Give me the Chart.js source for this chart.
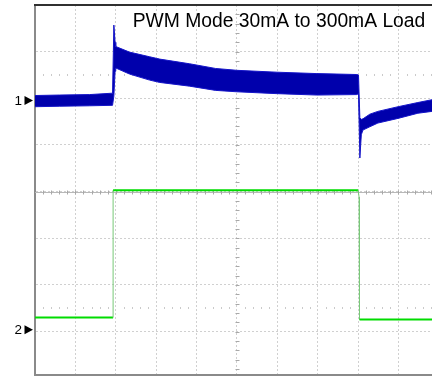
<!DOCTYPE html>
<html>
<head>
<meta charset="utf-8">
<title>PWM Mode 30mA to 300mA Load</title>
<script src="https://cdn.jsdelivr.net/npm/chart.js@4/dist/chart.umd.min.js"></script>
<style>
  html, body { margin: 0; padding: 0; background: #fff; overflow: hidden; }
  canvas { display: block; }
</style>
</head>
<body>
<canvas id="scope" width="432" height="376"></canvas>
<script>
// Screen title
const TITLE = 'PWM Mode 30mA to 300mA Load';

// Horizontal position in graticule divisions (0 = left edge of the screen)
const ch1Time  = [0, 0.60, 1.35, 1.92, 1.953, 1.983, 2.00, 2.34, 2.84, 3.09, 3.83, 4.47, 5.00, 5.99, 6.98, 7.97, 8.01, 8.044, 8.08, 8.12, 8.29, 8.49, 8.99, 9.48, 9.83];
// Channel 1: output voltage ripple band, upper and lower envelope (divisions)
const ch1Upper = [2.06, 2.07, 2.08, 2.11, 3.57, 3.20, 3.11, 2.99, 2.89, 2.84, 2.74, 2.64, 2.60, 2.56, 2.53, 2.51, 2.50, 1.58, 1.55, 1.56, 1.66, 1.72, 1.82, 1.91, 1.97];
const ch1Lower = [1.82, 1.83, 1.84, 1.85, 2.05, 2.58, 2.65, 2.52, 2.39, 2.34, 2.26, 2.17, 2.14, 2.10, 2.07, 2.08, 2.10, 0.72, 1.22, 1.32, 1.39, 1.47, 1.57, 1.68, 1.72];

// Channel 2: load current step (mA)
const ch2Time = [0, 1.934, 1.934, 8.00, 8.025, 8.035, 9.83];
const ch2Load = [26, 26, 299, 299, 284, 22, 22];

// Channel ground markers (divisions) and channel 2 scale
const CH1_MARKER = 1.955;
const CH2_MARKER = -2.96;
const CH2_MA_PER_DIV = 100;

// Graticule
const xGrid = [0, 1, 2, 3, 4, 5, 6, 7, 8, 9];
const yGrid = [-3, -2, -1, 0, 1, 2, 3, 4];

const pts = (xs, ys) => xs.map((v, i) => ({ x: v, y: ys[i] }));
const ch2Div = ch2Load.map(v => CH2_MARKER + v / CH2_MA_PER_DIV);

const BLUE_FILL = '#0000ac';
const BLUE_EDGE = '#1414c8';
const GREEN = '#00dc00';
const GREEN_STEP = '#78c878';

const scopeExtras = {
  id: 'scopeExtras',
  beforeDatasetsDraw(chart) {
    const { ctx, chartArea: a, scales: { x, y } } = chart;
    ctx.save();
    const yc = Math.round(y.getPixelForValue(0)) + 0.5;
    const xc = Math.round(x.getPixelForValue(5)) + 0.5;
    // solid horizontal centre line
    ctx.strokeStyle = '#b8b8b8';
    ctx.lineWidth = 1;
    ctx.beginPath();
    ctx.moveTo(a.left, yc);
    ctx.lineTo(a.right, yc);
    ctx.stroke();
    // minor ticks on the centre lines
    ctx.strokeStyle = '#a8a8a8';
    ctx.beginPath();
    for (let i = 1; i / 5 < x.max; i++) {
      const px = Math.round(x.getPixelForValue(i / 5)) + 0.5;
      ctx.moveTo(px, yc - 2);
      ctx.lineTo(px, yc + 2);
    }
    for (let i = -19; i < 20; i++) {
      const py = Math.round(y.getPixelForValue(i / 5)) + 0.5;
      ctx.moveTo(xc - 2, py);
      ctx.lineTo(xc + 2, py);
    }
    ctx.stroke();
    // dotted rows at +/- 2.5 divisions
    ctx.fillStyle = '#cacaca';
    for (const r of [2.5, -2.5]) {
      const py = Math.round(y.getPixelForValue(r));
      for (let i = 1; i / 5 < x.max; i++) {
        if (i % 5 === 0) continue;
        const px = Math.round(x.getPixelForValue(i / 5));
        ctx.fillRect(px, py - 1, 1, 2);
      }
    }
    ctx.restore();
  },
  afterDraw(chart) {
    const { ctx, chartArea: a, scales: { y } } = chart;
    ctx.save();
    // top frame line
    ctx.strokeStyle = '#303030';
    ctx.lineWidth = 2;
    ctx.beginPath();
    ctx.moveTo(a.left - 1, a.top);
    ctx.lineTo(a.right, a.top);
    ctx.stroke();

    // title
    ctx.fillStyle = '#000';
    ctx.font = '19.3px "Liberation Sans", Arial, sans-serif';
    ctx.textAlign = 'center';
    ctx.textBaseline = 'alphabetic';
    ctx.fillText(TITLE, a.left + 244, a.top + 22);

    // channel markers
    const marker = (label, val) => {
      const py = y.getPixelForValue(val);
      ctx.font = '13.5px "Liberation Sans", Arial, sans-serif';
      ctx.textAlign = 'right';
      ctx.textBaseline = 'middle';
      ctx.fillStyle = '#000';
      ctx.fillText(label, a.left - 13, py + 0.5);
      ctx.beginPath();
      ctx.moveTo(a.left - 10.5, py - 4.5);
      ctx.lineTo(a.left - 2, py);
      ctx.lineTo(a.left - 10.5, py + 4.5);
      ctx.closePath();
      ctx.fill();
    };
    marker('1', CH1_MARKER);
    marker('2', CH2_MARKER);
    ctx.restore();
  }
};

new Chart(document.getElementById('scope'), {
  type: 'line',
  data: {
    datasets: [
      {
        label: 'CH1 upper',
        data: pts(ch1Time, ch1Upper),
        borderColor: BLUE_EDGE,
        borderWidth: 1,
        pointRadius: 0,
        fill: false,
        tension: 0
      },
      {
        label: 'CH1 lower',
        data: pts(ch1Time, ch1Lower),
        borderColor: BLUE_EDGE,
        borderWidth: 1,
        backgroundColor: BLUE_FILL,
        pointRadius: 0,
        fill: '-1',
        tension: 0
      },
      {
        label: 'CH2 load',
        data: pts(ch2Time, ch2Div),
        borderColor: GREEN,
        borderWidth: 2,
        pointRadius: 0,
        fill: false,
        tension: 0,
        segment: {
          borderWidth: c => Math.abs(c.p1.parsed.x - c.p0.parsed.x) < 0.05 ? 1 : 2,
          borderColor: c => Math.abs(c.p1.parsed.x - c.p0.parsed.x) < 0.05 ? GREEN_STEP : GREEN
        }
      }
    ]
  },
  options: {
    responsive: false,
    animation: false,
    events: [],
    layout: { padding: { left: 35, top: 5, right: 0, bottom: 1 } },
    plugins: { legend: { display: false }, tooltip: { enabled: false }, title: { display: false } },
    scales: {
      x: {
        type: 'linear',
        min: 0,
        max: 9.83,
        afterBuildTicks: s => { s.ticks = xGrid.map(v => ({ value: v })); },
        ticks: { display: false },
        grid: { color: '#d0d0d0', lineWidth: 1, drawTicks: false },
        border: { display: true, color: '#8a8a8a', width: 2, dash: [2, 2] }
      },
      y: {
        type: 'linear',
        min: -3.93,
        max: 4,
        afterBuildTicks: s => { s.ticks = yGrid.map(v => ({ value: v })); },
        ticks: { display: false },
        grid: { color: '#d0d0d0', lineWidth: 1, drawTicks: false },
        border: { display: true, color: '#8a8a8a', width: 2, dash: [2, 2] }
      }
    }
  },
  plugins: [scopeExtras]
});
</script>
</body>
</html>
